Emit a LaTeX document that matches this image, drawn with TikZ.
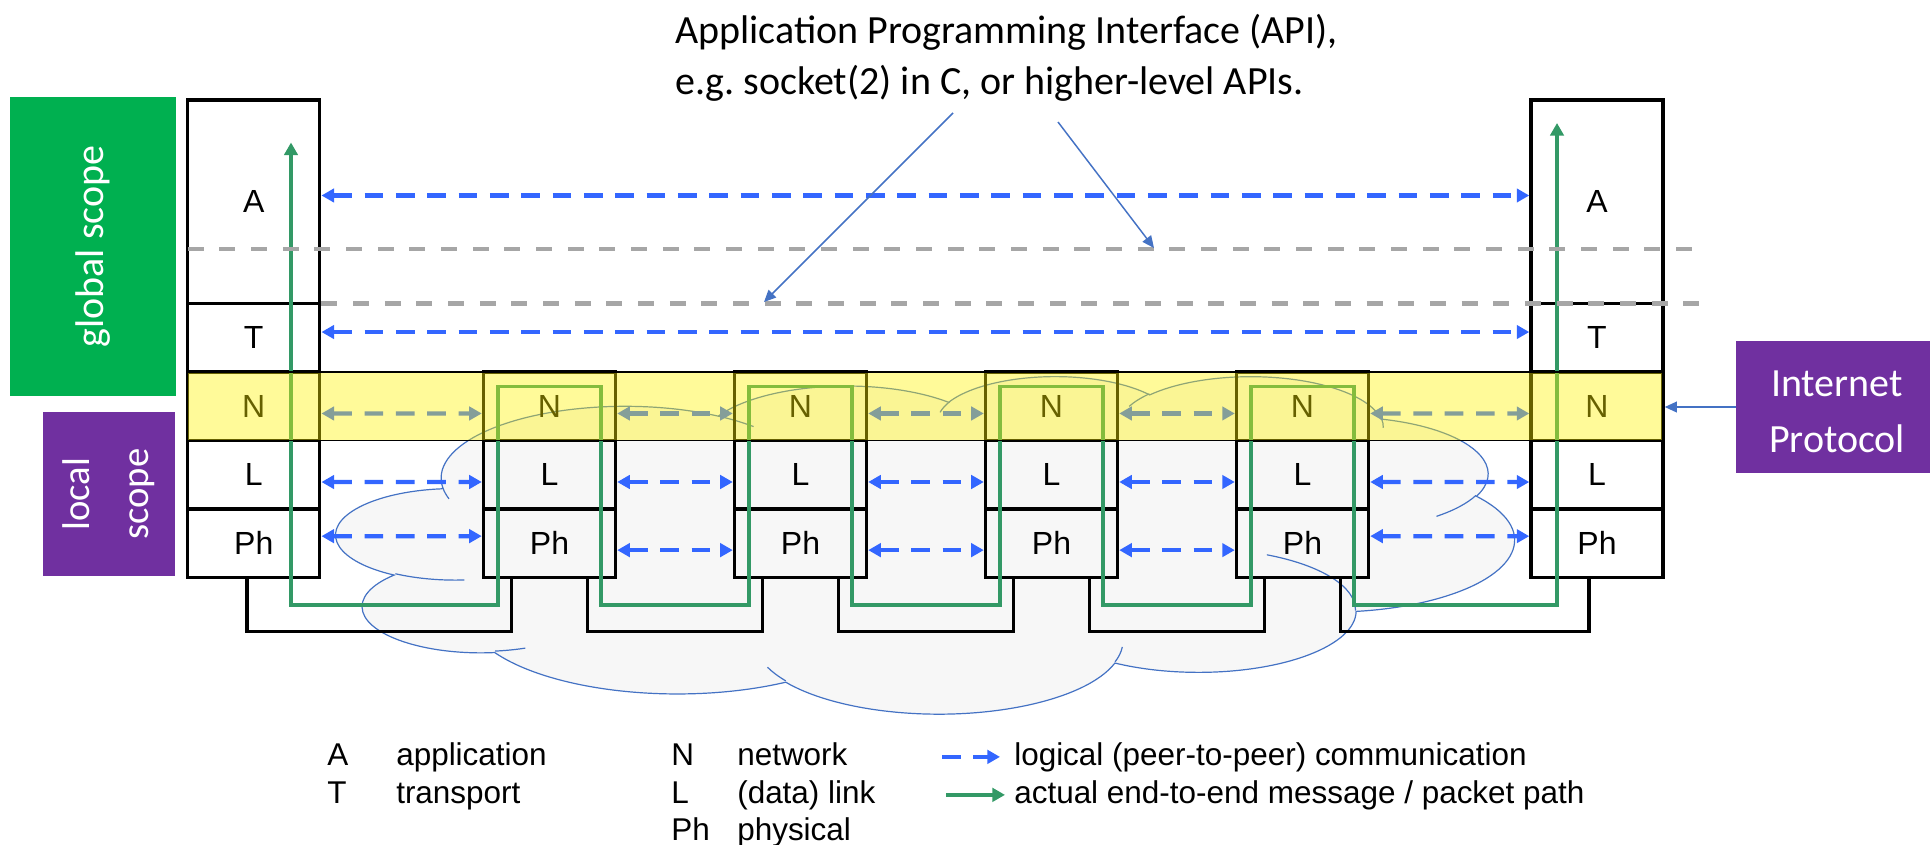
\documentclass[tikz,border=0pt]{standalone}
\usepackage{fontspec}
\setmainfont{Liberation Sans}
\newfontfamily\calibri{Carlito}
\usetikzlibrary{arrows.meta,positioning}

\definecolor{peerblue}{HTML}{3366FF}
\definecolor{pathgreen}{HTML}{339966}
\definecolor{apigray}{HTML}{A6A6A6}
\definecolor{globalgreen}{HTML}{00B050}
\definecolor{localpurple}{HTML}{7030A0}
\definecolor{noteblue}{HTML}{4472C4}
\definecolor{cloudgray}{HTML}{F7F7F7}

% one elliptic arc of the cloud: x radius, y radius, start angle, sweep
\newcommand\cloudang[4]{%
  \pgfmathsetmacro\cldA{atan2((#1)*sin(#3),(#2)*cos(#3))}%
  \pgfmathsetmacro\cldB{atan2((#1)*sin((#3)+(#4)),(#2)*cos((#3)+(#4)))}%
  \pgfmathsetmacro\cldD{\cldB-(\cldA)}%
  \pgfmathsetmacro\cldD{\cldD<0 ? \cldD+360 : \cldD}%
  \global\let\cldA\cldA \global\let\cldD\cldD}
\newcommand\cldarc[4]{\pgfextra{\cloudang{#1}{#2}{#3}{#4}}
  arc[x radius=#1, y radius=#2, start angle=\cldA, delta angle=\cldD]}

\tikzset{
  layerbox/.style={draw, line width=2.6pt, outer sep=0pt, inner sep=0pt,
    minimum width=99pt, minimum height=51.4pt, font=\fontsize{24}{28}\selectfont},
  appbox/.style={layerbox, minimum height=152.6pt},
  peerarrow/.style={draw=peerblue, line width=3.2pt, dash pattern=on 14pt off 9.5pt,
    shorten <=1.3pt, shorten >=1.3pt,
    {Triangle[length=9.4pt,width=10pt]}-{Triangle[length=9.4pt,width=10pt]}},
  msgpath/.style={draw=pathgreen, line width=2.5pt,
    {Triangle[length=9.4pt,width=10pt]}-{Triangle[length=9.4pt,width=10pt]}},
  wire/.style={draw, line width=2.5pt},
  apiline/.style={draw=apigray, line width=3.2pt, dash pattern=on 12pt off 11.75pt},
  notearrow/.style={draw=noteblue, line width=1.1pt, -{Triangle[length=9pt,width=8pt]}},
  scopebox/.style={inner sep=0pt, text=white, font=\calibri\fontsize{30}{42}\selectfont},
  keytext/.style={anchor=base west, inner sep=0pt, font=\fontsize{23.6}{28}\selectfont},
  band/.style={draw, line width=1.1pt, fill=yellow, fill opacity=0.4}
}

\begin{document}
\begin{tikzpicture}[x=0.75pt,y=-0.75pt]
  \useasboundingbox (0,0) rectangle (1930,844);

  % network cloud
  \begin{scope}[shift={(336.5,375.5)}, x=2.0445pt, y=-0.5858pt]
    \path[fill=cloudgray, draw=noteblue, line width=0.9pt] (39,143.7)
      \cldarc{67.53}{91.90}{-190.4875}{123.7805}
      \cldarc{53.33}{72.67}{-144.1024}{89.9452}
      \cldarc{43.65}{59.45}{-145.8079}{99.7230}
      \cldarc{48.57}{65.95}{-130.9861}{117.2417}
      \cldarc{53.33}{72.73}{-78.7089}{109.0269}
      \cldarc{67.75}{92.20}{-46.2673}{130.2690}
      \cldarc{57.85}{78.67}{0.6250}{114.0333}
      \cldarc{67.52}{92.15}{22.4516}{115.1726}
      \cldarc{77.20}{105.43}{66.2426}{75.7110}
      \cldarc{43.60}{59.18}{-274.9421}{146.7356}
      \cldarc{43.45}{59.45}{-246.8285}{152.5189} -- cycle;
    \path[draw=noteblue, line width=0.9pt]
      (46.93,261.77) \cldarc{43.45}{59.45}{86.7420}{26.4295}
      (69.28,348.99) \cldarc{43.60}{59.18}{73.6105}{11.4475}
      (164.78,390.90) \cldarc{67.52}{92.15}{137.6242}{14.0811}
      (288.27,347.51) \cldarc{67.52}{92.15}{6.4533}{15.9984}
      (341.29,229.54) \cldarc{57.85}{78.67}{-70.2924}{70.9174}
      (417.98,153.54) \cldarc{53.33}{72.73}{30.3180}{27.7515}
      (383.24,54.26) \cldarc{48.57}{65.95}{-13.7443}{14.8589}
      (290.78,39.52) \cldarc{48.57}{65.95}{-149.1815}{18.1954}
      (221.41,47.20) \cldarc{43.65}{59.45}{-163.4943}{17.6864}
      (140.00,51.92) \cldarc{67.53}{91.90}{-66.7070}{12.3194}
      (41.27,157.89) \cldarc{67.53}{91.90}{157.6544}{11.8582};
  \end{scope}

  % scopes
  \node[scopebox, fill=globalgreen, rotate=90, minimum width=224.25pt,
        minimum height=124.5pt] (global) at (93,246.5) {global scope};
  \node[scopebox, fill=localpurple, rotate=90, minimum width=123pt,
        minimum height=99pt, align=center,
        font=\calibri\fontsize{29}{44}\selectfont] (local) at (109,494) {local\\scope};
  \node[scopebox, fill=localpurple, minimum width=151.5pt, minimum height=99pt,
        align=center] (ip) at (1837,407) {\rule{0pt}{27pt}Internet\\Protocol};

  % left host
  \node[appbox] (hlA) at (253.75,201.75) {A};
  \node[layerbox, below=0pt of hlA] (hlT) {T};
  \node[layerbox, below=0pt of hlT] (hlN) {N};
  \node[layerbox, below=0pt of hlN] (hlL) {L};
  \node[layerbox, below=0pt of hlL] (hlP) {Ph};

  % right host
  \node[appbox] (hrA) at (1597,201.75) {A};
  \node[layerbox, below=0pt of hrA] (hrT) {T};
  \node[layerbox, below=0pt of hrT] (hrN) {N};
  \node[layerbox, below=0pt of hrN] (hrL) {L};
  \node[layerbox, below=0pt of hrL] (hrP) {Ph};

  % routers
  \foreach \i/\x in {1/549.5,2/800.5,3/1051.5,4/1302.5} {
    \node[layerbox] (n\i) at (\x,406.25) {N};
    \node[layerbox, below=0pt of n\i] (l\i) {L};
    \node[layerbox, below=0pt of l\i] (p\i) {Ph};
  }

  % physical links
  \draw[wire] ([xshift=-5pt]hlP.south) -- ++(0,54) -| ([xshift=-28.5pt]p1.south);
  \foreach \i/\j in {1/2,2/3,3/4}
    \draw[wire] ([xshift=28.5pt]p\i.south) -- ++(0,54) -| ([xshift=-28.5pt]p\j.south);
  \draw[wire] ([xshift=28.5pt]p4.south) -- ++(0,54) -| ([xshift=-6pt]hrP.south);

  % actual message path
  \coordinate (gl) at (291,142.5);
  \coordinate (gr) at (1557,123);
  \draw[msgpath] (gl) -- (291,605)
    \foreach \x in {549.5,800.5,1051.5,1302.5} { -| (\x-51.5,386.5) -| (\x+51.5,605) }
    -| (gr);

  % logical peer-to-peer links
  \draw[peerarrow] ([yshift=4.7pt]hlA.east) -- ([yshift=4.7pt]hrA.west);
  \draw[peerarrow] ([yshift=4.3pt]hlT.east) -- ([yshift=4.3pt]hrT.west);
  \draw[peerarrow] ([yshift=-5.4pt]hlN.east) -- ([yshift=-5.4pt]n1.west);
  \draw[peerarrow] ([yshift=-5.4pt]hlL.east) -- ([yshift=-5.4pt]l1.west);
  \draw[peerarrow] ([yshift=5.4pt]hlP.east) -- ([yshift=5.4pt]p1.west);
  \foreach \i/\j in {1/2,2/3,3/4} {
    \draw[peerarrow] ([yshift=-5.4pt]n\i.east) -- ([yshift=-5.4pt]n\j.west);
    \draw[peerarrow] ([yshift=-5.4pt]l\i.east) -- ([yshift=-5.4pt]l\j.west);
    \draw[peerarrow] ([yshift=-5.1pt]p\i.east) -- ([yshift=-5.1pt]p\j.west);
  }
  \draw[peerarrow] ([yshift=-5.4pt]n4.east) -- ([yshift=-5.4pt]hrN.west);
  \draw[peerarrow] ([yshift=-5.4pt]l4.east) -- ([yshift=-5.4pt]hrL.west);
  \draw[peerarrow] ([yshift=5.4pt]p4.east) -- ([yshift=5.4pt]hrP.west);

  % API boundaries
  \draw[apiline] ([yshift=-35.4pt]hlA.west) -- ++(1514,0);
  \draw[apiline] ([xshift=1.3pt]hlA.south east) -- ++(1386,0);

  % network layer band
  \draw[band] (hlN.north west) rectangle (hrN.south east);

  \draw[notearrow, shorten >=1.3pt] (ip.west) -- (ip.west -| hrN.east);

  % API note
  \node[anchor=base west, inner sep=0pt, font=\calibri\fontsize{30}{38}\selectfont]
    (api1) at (675,43) {Application Programming Interface (API),};
  \node[anchor=base west, inner sep=0pt, font=\calibri\fontsize{30}{38}\selectfont]
    (api2) at (675,94) {e.g.\ socket(2) in C, or higher-level APIs.};
  \coordinate (apiS1) at (953,113);
  \coordinate (apiE1) at (764,302);
  \coordinate (apiS2) at (1058,122);
  \coordinate (apiE2) at (1154,248);
  \draw[notearrow] (apiS1) -- (apiE1);
  \draw[notearrow] (apiS2) -- (apiE2);

  % legend
  \node[keytext] (kA) at (327,765) {A};
  \node[keytext] (kAt) at (396,765) {application};
  \node[keytext] (kT) at (327,803) {T};
  \node[keytext] (kTt) at (396,803) {transport};
  \node[keytext] (kN) at (671,765) {N};
  \node[keytext] (kNt) at (737,765) {network};
  \node[keytext] (kL) at (671,803) {L};
  \node[keytext] (kLt) at (737,803) {(data) link};
  \node[keytext] (kP) at (671,840) {Ph};
  \node[keytext] (kPt) at (737,840) {physical};
  \node[keytext] (kpeer) at (1014,765) {logical (peer-to-peer) communication};
  \node[keytext] (kmsg) at (1014,803) {actual end-to-end message / packet path};
  \draw[peerarrow, -{Triangle[length=9.4pt,width=10pt]}, shorten <=0pt]
    ([xshift=-54pt]kpeer.west) -- ([xshift=-9.2pt]kpeer.west);
  \draw[msgpath, -{Triangle[length=9.4pt,width=10pt]}]
    ([xshift=-51pt]kmsg.west) -- ([xshift=-6.75pt]kmsg.west);
\end{tikzpicture}
\end{document}
